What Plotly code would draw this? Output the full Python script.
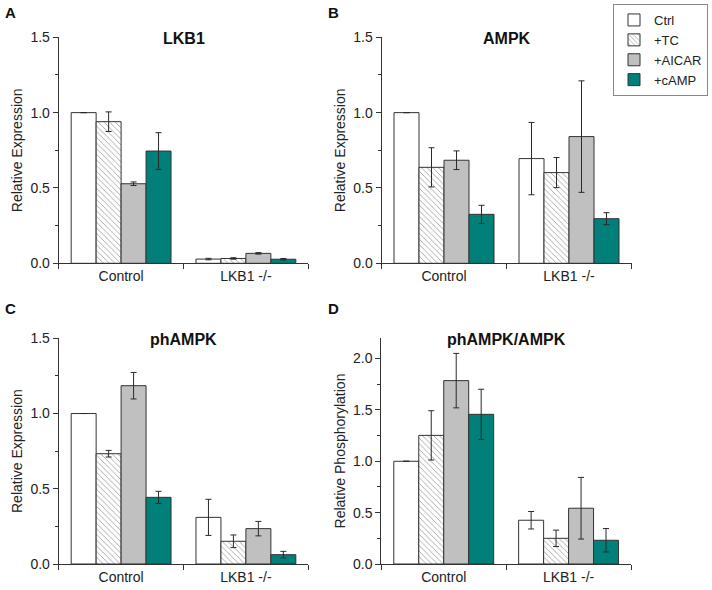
import plotly.graph_objects as go

categories = ["Control", "LKB1 -/-"]
series = ["Ctrl", "+TC", "+AICAR", "+cAMP"]

# values per series (Ctrl, +TC, +AICAR, +cAMP), each [Control, LKB1 -/-]
lkb1_values = [[1.0, 0.028], [0.94, 0.032], [0.528, 0.066], [0.745, 0.027]]
lkb1_errors = [[None, 0.005], [0.065, 0.005], [0.012, 0.005], [0.122, 0.005]]

ampk_values = [[1.0, 0.695], [0.637, 0.602], [0.684, 0.841], [0.325, 0.296]]
ampk_errors = [[None, 0.24], [0.13, 0.10], [0.062, 0.37], [0.06, 0.04]]

phampk_values = [[1.0, 0.31], [0.733, 0.151], [1.185, 0.235], [0.443, 0.062]]
phampk_errors = [[None, 0.12], [0.022, 0.042], [0.088, 0.048], [0.04, 0.022]]

ratio_values = [[1.0, 0.426], [1.252, 0.25], [1.785, 0.543], [1.457, 0.231]]
ratio_errors = [[None, 0.085], [0.24, 0.08], [0.265, 0.30], [0.244, 0.114]]

panel_titles = ["LKB1", "AMPK", "phAMPK", "phAMPK/AMPK"]
panel_letters = ["A", "B", "C", "D"]
y_titles = ["Relative Expression", "Relative Expression", "Relative Expression", "Relative Phosphorylation"]
y_ranges = [[0, 1.5], [0, 1.5], [0, 1.5], [0, 2.2]]

FONT = "Arial, Liberation Sans, sans-serif"
W, H = 712, 590
OUT = "#333333"

fills = [
    dict(color="white"),
    dict(color="white", pattern=dict(shape="\\", fgcolor="#444444", bgcolor="white", size=4, solidity=0.22)),
    dict(color="#c0c0c0"),
    dict(color="#008079"),
]

# panel boxes in pixels: x0, x1, ytop, ybottom
boxes = [(58.7, 308.3, 37.3, 263.3), (381.5, 631.5, 37.3, 263.3),
         (58.7, 308.3, 338.3, 564.0), (381.3, 631.0, 338.0, 564.0)]

panels = [(lkb1_values, lkb1_errors), (ampk_values, ampk_errors),
          (phampk_values, phampk_errors), (ratio_values, ratio_errors)]

fig = go.Figure()
annotations = []
for p, (vals, errs) in enumerate(panels):
    xa = "x" if p == 0 else f"x{p+1}"
    ya = "y" if p == 0 else f"y{p+1}"
    for s in range(4):
        m = dict(fills[s])
        m["line"] = dict(color=OUT, width=1)
        fig.add_trace(go.Bar(
            x=categories, y=vals[s], name=series[s],
            marker=m, xaxis=xa, yaxis=ya,
            showlegend=(p == 1), legendgroup=series[s],
            error_y=dict(type="data", array=errs[s], visible=True,
                         color="#2a2a2a", thickness=1, width=3),
        ))
    x0, x1, yt, yb = boxes[p]
    key = "" if p == 0 else str(p + 1)
    fig.layout["xaxis" + key] = dict(
        domain=[x0 / W, x1 / W], anchor=ya, range=[-0.5, 1.5], automargin=False,
        showline=True, linecolor="#333333", linewidth=1,
        ticks="outside", tickson="boundaries", ticklen=5, tickcolor="#333333",
        tickfont=dict(size=14, color="#222222", family=FONT),
        showgrid=False, zeroline=False,
    )
    fig.layout["yaxis" + key] = dict(
        domain=[1 - yb / H, 1 - yt / H], anchor=xa, range=y_ranges[p], automargin=False,
        showline=True, linecolor="#333333", linewidth=1,
        ticks="outside", ticklen=5, tickcolor="#333333", dtick=0.5, tick0=0,
        tickformat=".1f",
        minor=dict(ticks="outside", ticklen=3, dtick=0.25, tickcolor="#333333"),
        tickfont=dict(size=14, color="#222222", family=FONT),
        title=dict(text=y_titles[p], font=dict(size=14, color="#222222", family=FONT), standoff=4),
        showgrid=False, zeroline=False,
    )
    annotations.append(dict(
        text="<b>%s</b>" % panel_titles[p], xref="paper", yref="paper",
        x=(x0 + x1) / 2 / W, y=1 - (yt + 1) / H, xanchor="center", yanchor="middle",
        showarrow=False, font=dict(size=16, color="#111111", family=FONT)))
    lx = 10 if p in (0, 2) else 333
    ly = 13 if p < 2 else 308
    annotations.append(dict(
        text="<b>%s</b>" % panel_letters[p], xref="paper", yref="paper",
        x=lx / W, y=1 - ly / H, xanchor="center", yanchor="middle",
        showarrow=False, font=dict(size=15, color="#111111", family=FONT)))

fig.update_layout(
    width=W, height=H, margin=dict(l=0, r=0, t=0, b=0, autoexpand=False),
    paper_bgcolor="white", plot_bgcolor="white",
    barmode="group", bargap=0.2, bargroupgap=0,
    font=dict(family=FONT, size=14, color="#222222"),
    annotations=annotations,
    legend=dict(x=708 / W, y=1 - 4 / H, xanchor="right", yanchor="top",
                bordercolor="#888888", borderwidth=1, bgcolor="white",
                font=dict(size=13, family=FONT, color="#222222"),
                tracegroupgap=0, itemwidth=30),
)

fig.write_html("out.html", config={"displayModeBar": False},
               post_script="document.body.style.margin='0';document.body.style.overflow='hidden';")
